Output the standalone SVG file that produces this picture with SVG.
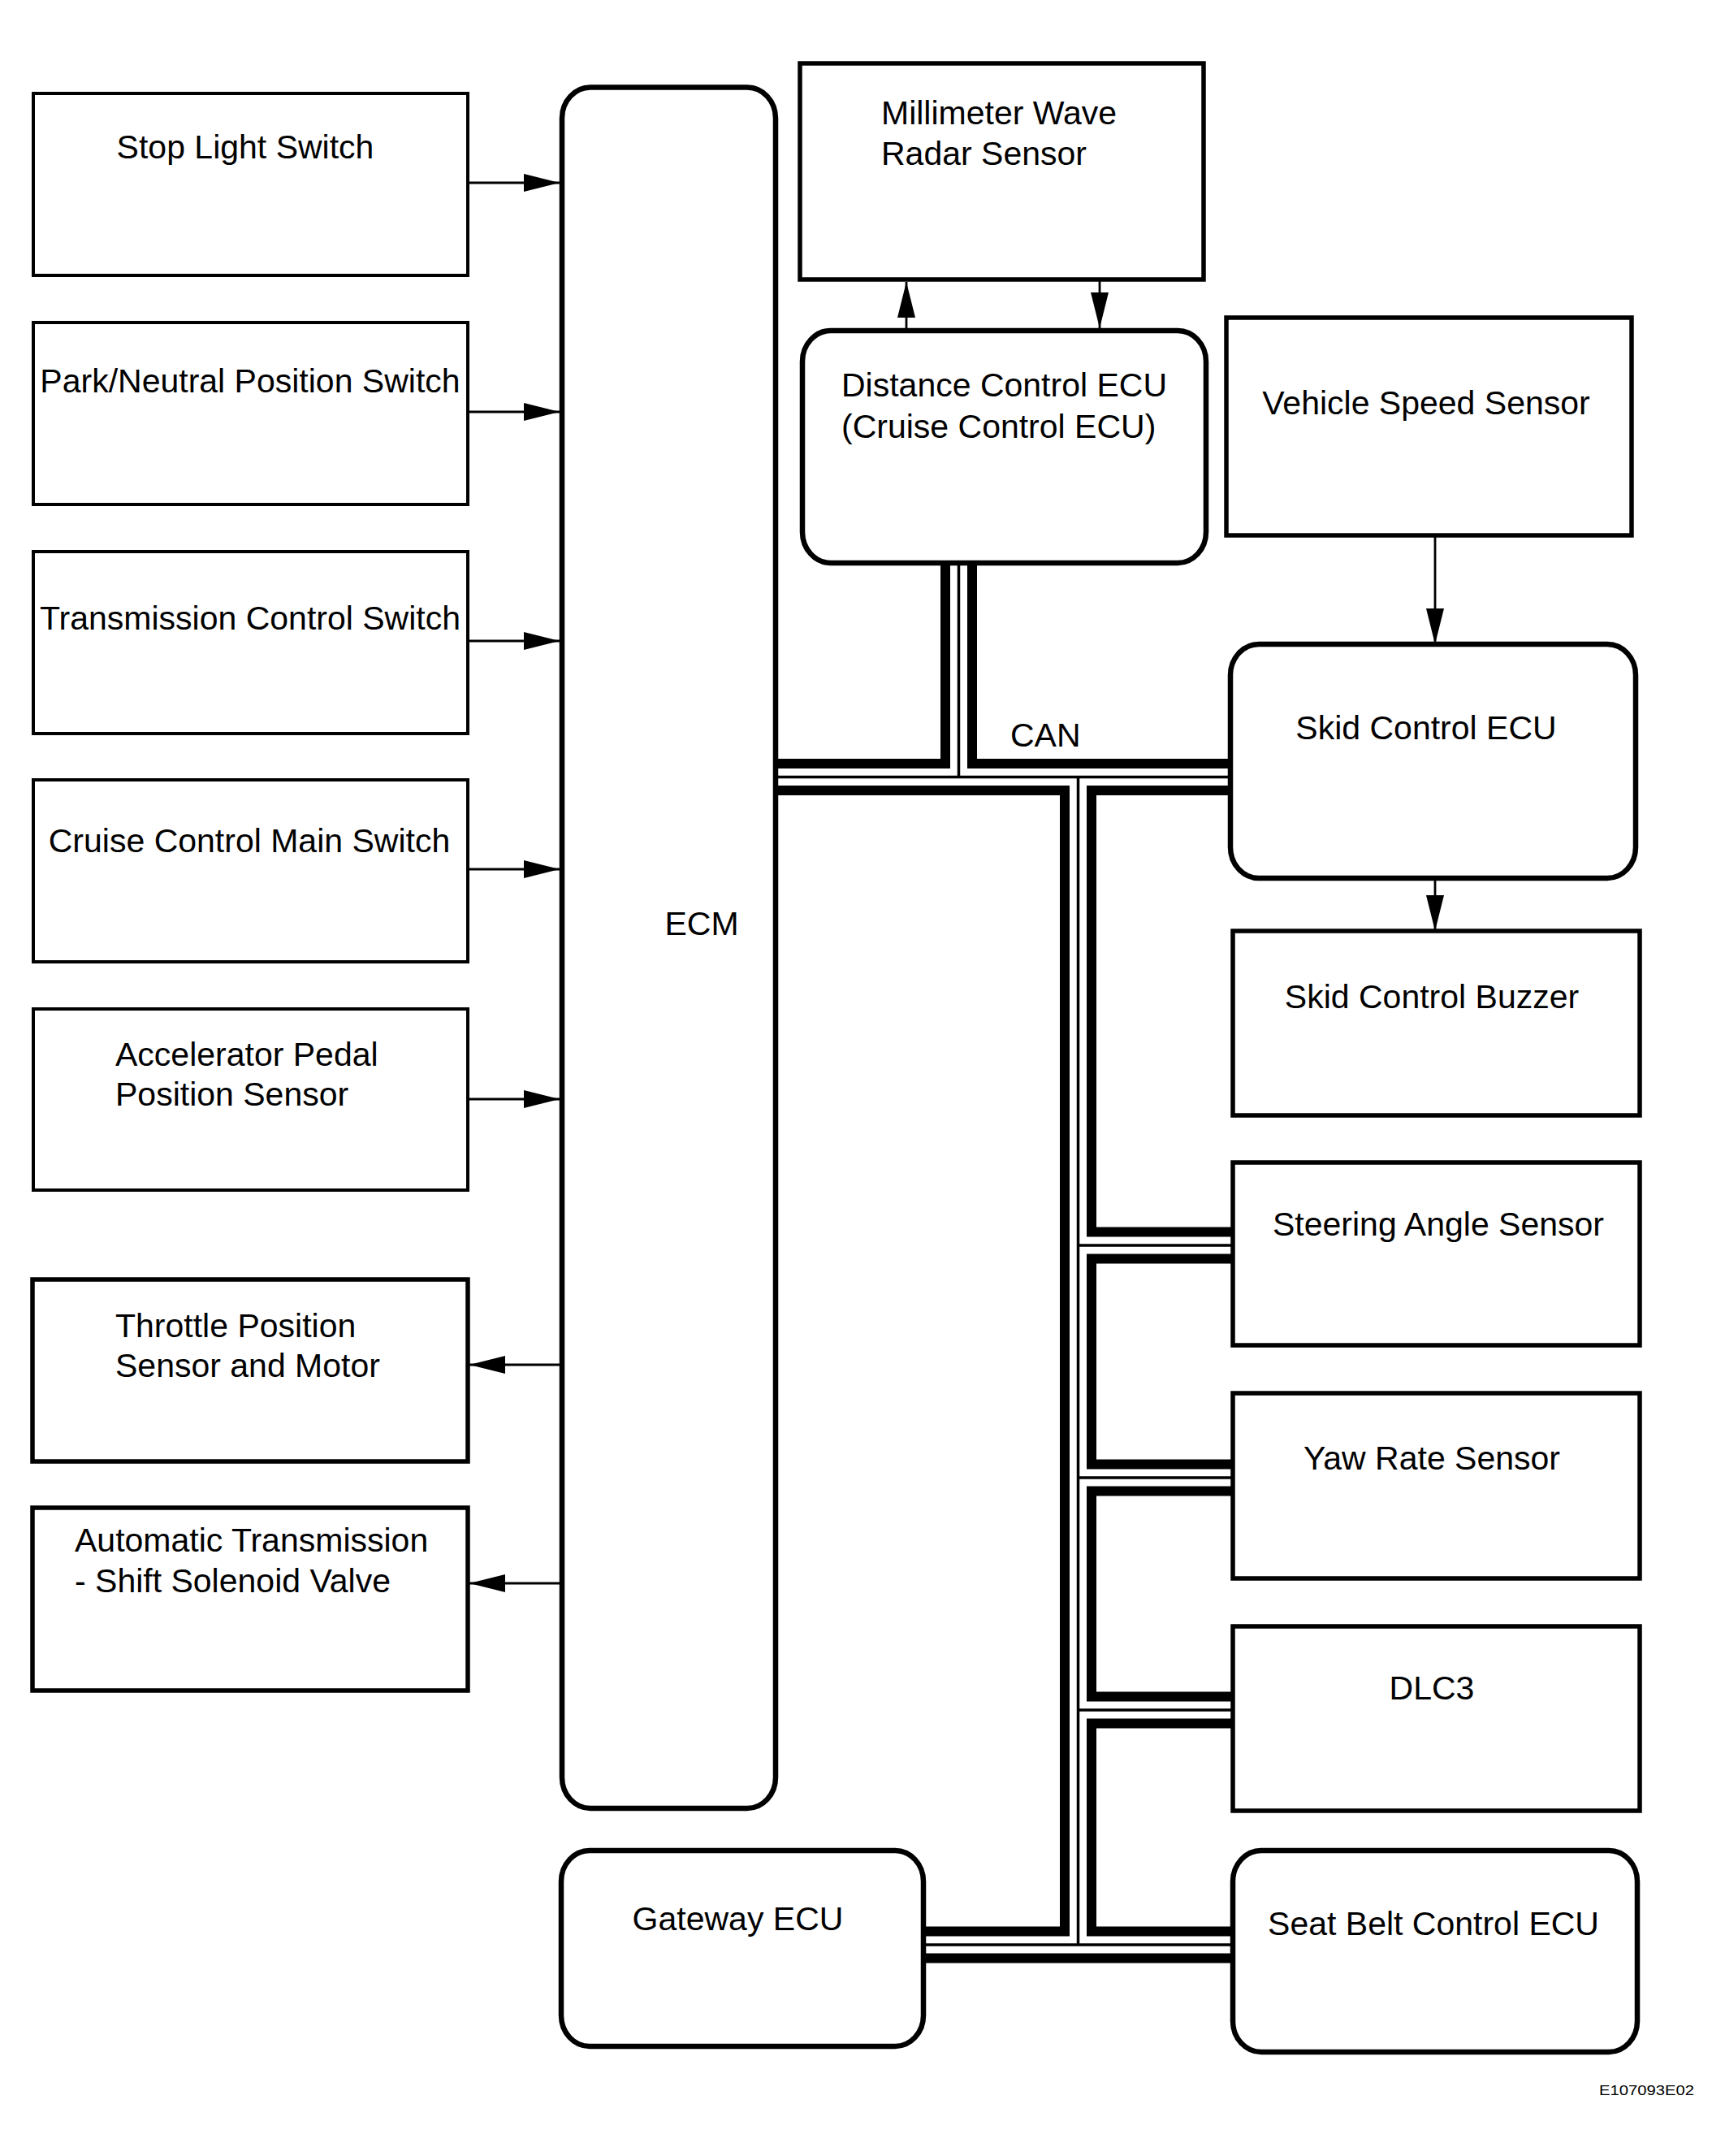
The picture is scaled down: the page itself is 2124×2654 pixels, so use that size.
<svg xmlns="http://www.w3.org/2000/svg" width="2124" height="2654" viewBox="0 0 2124 2654">
<defs>
<marker id="ah" markerUnits="userSpaceOnUse" markerWidth="44" markerHeight="22" refX="44" refY="11" orient="auto">
<path d="M0,0 L44,11 L0,22 z" fill="#000"/>
</marker>
<style>
text{font-family:"Liberation Sans",Arial,Helvetica,sans-serif;font-size:41px;fill:#000}
.c{text-anchor:middle}
.b4{fill:none;stroke:#000;stroke-width:4}
.b5{fill:none;stroke:#000;stroke-width:5.5}
.r{fill:none;stroke:#000;stroke-width:6.5}
.ar{stroke:#000;stroke-width:2.8;fill:none;marker-end:url(#ah)}
.bo{fill:none;stroke:#000;stroke-width:45}
.bw{fill:none;stroke:#fff;stroke-width:21}
.bc{fill:none;stroke:#000;stroke-width:3.5}
</style>
</defs>
<rect width="2124" height="2654" fill="#fff"/>
<g id="connectors">
<g id="can-bus">
<path class="bo" d="M955,956.5 H1515 M1180.5,956.5 V693 M1327.5,956.5 V2394 M1327.5,1533 H1518 M1327.5,1819 H1518 M1327.5,2105 H1518 M1137,2394 H1518"/>
<path class="bw" d="M955,956.5 H1515 M1180.5,956.5 V693 M1327.5,956.5 V2394 M1327.5,1533 H1518 M1327.5,1819 H1518 M1327.5,2105 H1518 M1137,2394 H1518"/>
<path class="bc" d="M955,956.5 H1515 M1180.5,956.5 V693 M1327.5,956.5 V2394 M1327.5,1533 H1518 M1327.5,1819 H1518 M1327.5,2105 H1518 M1137,2394 H1518"/>
</g>
<path class="ar" d="M576,225 H689"/>
<path class="ar" d="M576,507 H689"/>
<path class="ar" d="M576,789 H689"/>
<path class="ar" d="M576,1070 H689"/>
<path class="ar" d="M576,1353 H689"/>
<path class="ar" d="M689,1680 H578"/>
<path class="ar" d="M689,1949 H578"/>
<path class="ar" d="M1116,407 V347"/>
<path class="ar" d="M1354,344 V404"/>
<path class="ar" d="M1767,659 V793"/>
<path class="ar" d="M1767,1081 V1146"/>
<text x="1244" y="919">CAN</text>
</g>
<g id="stop-light-switch"><rect class="b4" x="41" y="115" width="535" height="224"/><text class="c" x="302" y="195">Stop Light Switch</text></g>
<g id="park-neutral-position-switch"><rect class="b4" x="41" y="397" width="535" height="224"/><text class="c" x="308" y="483">Park/Neutral Position Switch</text></g>
<g id="transmission-control-switch"><rect class="b4" x="41" y="679" width="535" height="224"/><text class="c" x="308" y="775">Transmission Control Switch</text></g>
<g id="cruise-control-main-switch"><rect class="b4" x="41" y="960" width="535" height="224"/><text class="c" x="307" y="1049">Cruise Control Main Switch</text></g>
<g id="accelerator-pedal-position-sensor"><rect class="b4" x="41" y="1242" width="535" height="223"/><text x="142" y="1312">Accelerator Pedal</text><text x="142" y="1361">Position Sensor</text></g>
<g id="throttle-position-sensor"><rect class="b5" x="40" y="1575" width="536" height="224"/><text x="142" y="1646">Throttle Position</text><text x="142" y="1695">Sensor and Motor</text></g>
<g id="shift-solenoid-valve"><rect class="b5" x="40" y="1856" width="536" height="225"/><text x="92" y="1910">Automatic Transmission</text><text x="92" y="1960">- Shift Solenoid Valve</text></g>
<g id="ecm"><rect class="r" x="692" y="107.5" width="263" height="2118.5" rx="35" ry="38"/><text class="c" x="864" y="1151">ECM</text></g>
<g id="millimeter-wave-radar-sensor"><rect class="b5" x="985" y="78" width="497" height="266"/><text x="1085" y="153">Millimeter Wave</text><text x="1085" y="203">Radar Sensor</text></g>
<g id="distance-control-ecu"><rect class="r" x="988" y="407" width="497" height="286" rx="35" ry="38"/><text x="1036" y="488">Distance Control ECU</text><text x="1036" y="539">(Cruise Control ECU)</text></g>
<g id="vehicle-speed-sensor"><rect class="b5" x="1510" y="391" width="499" height="268"/><text class="c" x="1756" y="510">Vehicle Speed Sensor</text></g>
<g id="skid-control-ecu"><rect class="r" x="1515" y="793" width="499" height="288" rx="35" ry="38"/><text class="c" x="1756" y="910">Skid Control ECU</text></g>
<g id="skid-control-buzzer"><rect class="b5" x="1518" y="1146" width="501" height="227"/><text class="c" x="1763" y="1241">Skid Control Buzzer</text></g>
<g id="steering-angle-sensor"><rect class="b5" x="1518" y="1431" width="501" height="225"/><text class="c" x="1771" y="1521">Steering Angle Sensor</text></g>
<g id="yaw-rate-sensor"><rect class="b5" x="1518" y="1715" width="501" height="228"/><text class="c" x="1763" y="1809">Yaw Rate Sensor</text></g>
<g id="dlc3"><rect class="b5" x="1518" y="2002" width="501" height="227"/><text class="c" x="1763" y="2092">DLC3</text></g>
<g id="gateway-ecu"><rect class="r" x="691" y="2278" width="446" height="241" rx="35" ry="38"/><text class="c" x="908.5" y="2376">Gateway ECU</text></g>
<g id="seat-belt-control-ecu"><rect class="r" x="1518" y="2278" width="498" height="248" rx="35" ry="38"/><text class="c" x="1765" y="2382">Seat Belt Control ECU</text></g>
<text x="1969" y="2579" style="font-size:17px" textLength="117" lengthAdjust="spacingAndGlyphs">E107093E02</text>
</svg>
